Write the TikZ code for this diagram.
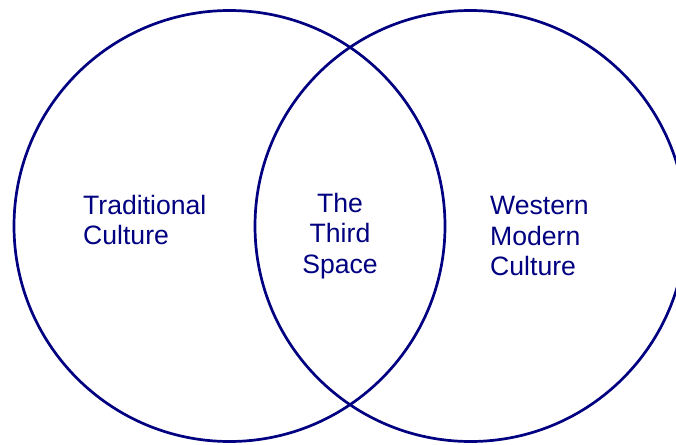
\documentclass[tikz,border=0pt]{standalone}
\usepackage{fontspec}
\setmainfont{Liberation Sans}
\usepackage{tikz}
\usetikzlibrary{positioning}
\definecolor{navy}{HTML}{000080}
\tikzset{
  ring/.style={circle,draw=navy,line width=2.7pt,minimum size=431pt,inner sep=0pt},
  lbl/.style={font=\fontsize{26.6}{30.5}\selectfont,text=navy,inner sep=0pt},
}
\begin{document}
\begin{tikzpicture}[x=1pt,y=-1pt]
    \useasboundingbox (0,0) rectangle (676,444);
    \node[ring] (trad) at (229.5,226) {};
    \node[ring] (west) at (470.5,226) {};
    \node[lbl,anchor=west,align=left] (tradtxt) at (83,220) {Traditional\\Culture};
    \node[lbl,align=center] (third) at (340,236) {The\\Third\\Space};
    \node[lbl,anchor=west,align=left] (westtxt) at (490,236) {Western\\Modern\\Culture};
  \end{tikzpicture}
\end{document}
